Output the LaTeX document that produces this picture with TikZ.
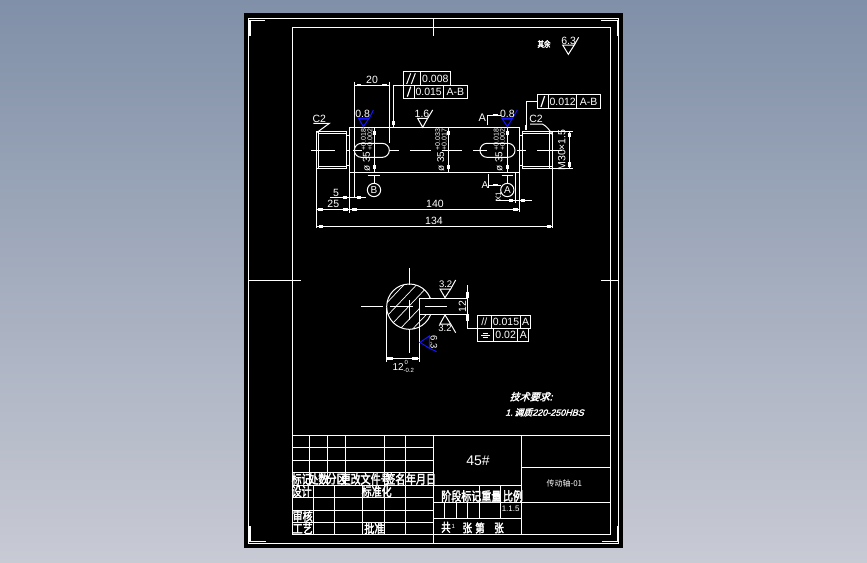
\documentclass[tikz,border=0pt]{standalone}
\usepackage{fontspec}
\setmainfont{Liberation Sans}
\newfontfamily\cjk[FakeBold=3]{Noto Sans CJK SC}
\newfontfamily\cjkslant[FakeBold=2.5,FakeSlant=0.3]{Noto Sans CJK SC}
\newfontfamily\cjkthin{Noto Sans CJK SC}
\newfontfamily\latslant[FakeSlant=0.3,FakeBold=2]{Liberation Sans}
\definecolor{bgtop}{RGB}{128,144,168}
\definecolor{bgbot}{RGB}{200,202,212}
\definecolor{cadblue}{RGB}{20,20,255}
\newcommand{\tolstack}[3]{#1\hspace{1pt}{\raisebox{-2.5pt}{\fontsize{7}{7}\selectfont\shortstack[l]{#2\\[-1.5pt]#3}}}}
\tikzset{
  ln/.style={draw=white,line width=1pt},
  bold/.style={draw=white,line width=1.2pt},
  tk/.style={draw=white,line width=2.4pt},
  txt/.style={text=white,inner sep=0pt,font=\fontsize{10.5}{11}\selectfont},
  ct/.style={text=white,inner sep=0pt,yscale=1.25,transform shape,font=\fontsize{10}{10}\selectfont\cjk},
  zo/.style={x=0.33333pt,y=-0.33333pt,shift={(290pt,-20pt)}},
  zs/.style={x=0.33333pt,y=-0.33333pt,shift={(350pt,-250pt)}},
  zt/.style={x=0.33333pt,y=-0.33333pt,shift={(285pt,-430pt)}},
}
\begin{document}
\begin{tikzpicture}[x=1pt,y=-1pt]
\useasboundingbox (0,0) rectangle (867,562);
\shade[top color=bgtop,bottom color=bgbot] (0,0) rectangle (867,562);
\fill[black] (244,13) rectangle (623,548);
% sheet frames
\draw[ln] (248.5,18.3) rectangle (618.7,543.3);
\draw[ln] (292.5,27.3) rectangle (610.3,534);
% corner marks
\draw[bold] (250,36)--(250,20.5)--(265,20.5);
\draw[bold] (601,20.5)--(617.3,20.5)--(617.3,36);
\draw[bold] (250,526)--(250,541.7)--(266,541.7);
\draw[bold] (602,541.7)--(617.3,541.7)--(617.3,526);
% centre marks
\draw[ln] (249,280.5)--(301,280.5);
\draw[ln] (601,280.5)--(618,280.5);
\draw[ln] (433.3,18)--(433.3,36);
\draw[ln] (433.3,534)--(433.3,543);

\begin{scope}[zo]
% shaft
\draw[ln] (179,322) rectangle (688,458);
\draw[ln] (80,334) rectangle (170,445);
\draw[ln] (86,340)--(170,340) (86,438)--(170,438) (86,334)--(86,445);
\draw[ln] (170,345)--(179,345) (170,435)--(179,435);
\draw[ln] (696,334) rectangle (788,445);
\draw[ln] (696,340)--(788,340) (696,438)--(788,438) (778,334)--(778,445);
\draw[ln] (688,345)--(696,345) (688,435)--(696,435);
% centre line
\foreach \a/\b in {63/135,168/179,190/215,300/327,360/422,455/516,550/590,680/708,742/815}
  \draw[ln] (\a,390)--(\b,390);
% keyways
\draw[ln] (214,370)--(277,370) arc[start angle=-90,end angle=90,radius=21] --(214,412) arc[start angle=90,end angle=270,radius=21];
\draw[ln] (591,370)--(654,370) arc[start angle=-90,end angle=90,radius=21] --(591,412) arc[start angle=90,end angle=270,radius=21];
% diameter dimensions
\draw[ln] (253,322)--(253,458) (476,322)--(476,458) (652,322)--(652,458);
\foreach \x in {253,476,652}
  \draw[tk] (\x,334)--(\x,346) (\x,435)--(\x,447);
\node[txt,rotate=90] (d1) at (230,391) {\fontsize{10}{10}\selectfont\tolstack{ø 35}{+0.018}{+0.002}};
\node[txt,rotate=90] (d2) at (453,391) {\fontsize{10}{10}\selectfont\tolstack{ø 35}{+0.033}{+0.017}};
\node[txt,rotate=90] (d3) at (628,391) {\fontsize{10}{10}\selectfont\tolstack{ø 35}{+0.018}{+0.002}};
% dim 20
\draw[ln] (193,185)--(193,530) (298,185)--(298,370);
\draw[ln] (193,195)--(298,195);
\draw[tk] (200,195)--(214,195) (277,195)--(291,195);
\node[txt] (t20) at (246,181) {20};
% leader and FCF 1
\draw[ln] (340,195)--(310,195)--(310,322);
\draw[tk] (310,303)--(310,315);
\draw[ln] (340,155) rectangle (482,196);
\draw[ln] (392,155)--(392,196);
\draw[ln] (340,196) rectangle (532,235);
\draw[ln] (372,196)--(372,235) (460,196)--(460,235);
\draw[ln] (350,192)--(362,160) (364,192)--(376,160);
\draw[bold] (352,230)--(362,200);
\node[txt] (f1) at (436,176) {0.008};
\node[txt] (f2) at (416,216) {0.015};
\node[txt] (f3) at (496,216) {A-B};
% FCF 2
\draw[ln] (742,245)--(708,245)--(708,322);
\draw[tk] (708,316)--(708,330);
\draw[ln] (742,223) rectangle (932,266);
\draw[ln] (775,223)--(775,266) (860,223)--(860,266);
\draw[bold] (753,261)--(764,228);
\node[txt] (f4) at (818,245) {0.012};
\node[txt] (f5) at (896,245) {A-B};
% chamfers
\node[txt] (c1) at (88,297) {C2};
\draw[ln] (70,310)--(118,310)--(80,338);
\node[txt] (c2) at (738,298) {C2};
\draw[ln] (720,312)--(757,312) .. controls (770,318) and (780,332) .. (788,345);
% M30
\draw[ln] (788,334)--(848,334) (788,445)--(848,445) (838,334)--(838,445);
\draw[tk] (838,338)--(838,352) (838,427)--(838,441);
\node[txt,rotate=90] (m) at (815,390) {M30×1.5};
% horizontal dims
\draw[ln] (179,322)--(179,578) (688,458)--(688,575) (675,458)--(675,550);
\draw[ln] (80,340)--(80,625) (788,345)--(788,625);
\draw[ln] (120,532)--(228,532);
\draw[tk] (158,532)--(172,532) (200,532)--(214,532);
\node[txt] (t5) at (138,518) {5};
\draw[ln] (80,568)--(688,568);
\draw[tk] (84,568)--(98,568) (160,568)--(174,568) (186,568)--(200,568) (670,568)--(684,568);
\node[txt] (t25) at (130,553) {25};
\node[txt] (t140) at (435,553) {140};
\draw[ln] (80,620)--(788,620);
\draw[tk] (86,620)--(100,620) (770,620)--(784,620);
\node[txt] (t134) at (432,604) {134};
\draw[ln] (617,541)--(725,541);
\draw[tk] (658,541)--(670,541) (694,541)--(706,541);
\node[txt,rotate=90,font=\fontsize{8}{8}\selectfont] (tx) at (625,530) {X1};
% datum symbols
\node[draw=white,line width=1pt,circle,minimum size=13.3pt,inner sep=0pt,text=white,font=\fontsize{10}{10}\selectfont] (B) at (252,510) {B};
\node[draw=white,line width=1pt,circle,minimum size=13.3pt,inner sep=0pt,text=white,font=\fontsize{10}{10}\selectfont] (A) at (652,510) {A};
\coordinate (bt) at (252,466);
\coordinate (at) at (652,466);
\draw[ln] (B)--(bt) (A)--(at);
\draw[ln] (233,466)--(270,466) (635,466)--(670,466);
% section marks
\node[txt,font=\fontsize{11}{11}\selectfont] (sa1) at (577,292) {A};
\draw[ln] (593,316)--(593,285)--(632,285);
\draw[tk] (608,285)--(625,285);
\node[txt,font=\fontsize{10}{10}\selectfont] (sa2) at (585,495) {A};
\draw[ln] (595,463)--(595,505) (595,495)--(632,495);
\draw[tk] (610,495)--(625,495);
% roughness
\draw[cadblue,line width=1pt] (205,294)--(238,294)--(220,320)--cycle (238,294)--(250,270);
\fill[cadblue] (205,294)--(238,294)--(236,299)--(208,299)--cycle;
\node[txt] (r1) at (218,281) {0.8};
\draw[cadblue,line width=1pt] (635,294)--(668,294)--(652,320)--cycle (668,294)--(682,270);
\fill[cadblue] (635,294)--(668,294)--(666,299)--(638,299)--cycle;
\node[txt] (r2) at (652,281) {0.8};
\draw[ln] (383,295)--(413,295)--(398,322)--cycle (413,295)--(428,270);
\node[txt] (r3) at (396,283) {1.6};
\draw[ln] (818,75)--(853,75)--(835,103)--cycle (853,75)--(866,52);
\node[txt] (r4) at (836,64) {6.3};
\node[ct,font=\fontsize{6.5}{7}\selectfont\cjk] (qy) at (762,72) {其余};
\end{scope}

\begin{scope}[zs]
% section view
\begin{scope}
\clip (90,85) rectangle (208,255) (208,85) rectangle (260,145) (208,192) rectangle (260,255);
\draw[ln] (178,170) circle[radius=68];
\clip (178,170) circle[radius=68];
\foreach \o in {-100,-62,...,300}
  \draw[draw=white,line width=.7pt] (\o,260)--(\o+190,60);
\end{scope}
\draw[ln] (208,145)--(350,145) (208,192)--(350,192) (208,145)--(208,335);
\draw[ln] (33,170)--(100,170) (120,170)--(190,170) (225,170)--(290,170);
\draw[ln] (178,55)--(178,105) (178,150)--(178,210) (178,240)--(178,308);
\draw[ln] (108,175)--(108,335);
\draw[ln] (108,326)--(208,326);
\draw[tk] (112,326)--(130,326) (186,326)--(204,326);
\node[txt,font=\fontsize{10}{10}\selectfont] (t12b) at (160,349) {12\raisebox{-1.5pt}{\fontsize{6}{6}\selectfont\shortstack[l]{\,0\\-0.2}}};
\draw[ln] (352,105)--(352,235)--(382,235);
\draw[tk] (352,125)--(352,145) (352,192)--(352,212);
\node[txt,rotate=90] (t12) at (337,170) {12};
\draw[ln] (382,196) rectangle (542,235);
\draw[ln] (424,196)--(424,235) (511,196)--(511,235);
\draw[ln] (382,235) rectangle (536,274);
\draw[ln] (430,235)--(430,274) (503,235)--(503,274);
\node[txt] (s1) at (403,216) {//};
\node[txt] (s2) at (468,216) {0.015};
\node[txt] (s3) at (527,216) {A};
\draw[ln] (393,255)--(420,255) (398,249)--(415,249) (398,262)--(415,262);
\node[txt] (s4) at (467,255) {0.02};
\node[txt] (s5) at (520,255) {A};
% roughness
\draw[ln] (270,117)--(302,117)--(285,143)--cycle (302,117)--(317,90);
\node[txt,font=\fontsize{9.5}{10}\selectfont] (r32a) at (287,103) {3.2};
\draw[ln] (270,222)--(302,222)--(285,195)--cycle (302,222)--(317,248);
\node[txt,font=\fontsize{9.5}{10}\selectfont] (r32b) at (285,235) {3.2};
\draw[cadblue,line width=1pt] (238,258)--(238,295)--(210,277)--cycle (238,295)--(260,305);
\node[txt,rotate=-90,font=\fontsize{9.5}{10}\selectfont] (r63) at (252,277) {6.3};
% technical notes
\node[text=white,inner sep=0pt,font=\fontsize{10}{10}\selectfont\cjkslant] (n1) at (543,440) {技术要求:};
\node[text=white,inner sep=0pt,anchor=west] (n2) at (465,487) {\fontsize{9}{9}\selectfont\latslant 1.\,\cjkslant 调质\latslant 220-250HBS};
\end{scope}

\begin{scope}[zt]
% title block
\draw[ln] (22,16)--(975,16);
\foreach \y in {52,90,127,165,202,240,277}
  \draw[ln] (22,\y)--(445,\y);
\draw[ln] (445,16)--(445,340);
\foreach \x in {73,127,181,298,361}
  \draw[ln] (\x,16)--(\x,165);
\foreach \x in {85,148,232,298,361}
  \draw[ln] (\x,165)--(\x,313);
\draw[ln] (709,16)--(709,313);
\draw[ln] (709,112)--(975,112);
\draw[ln] (445,165)--(709,165);
\draw[ln] (445,217)--(975,217);
\draw[ln] (445,265)--(709,265);
\foreach \x in {478,515,547,583,647}
  \draw[ln] (\x,217)--(\x,265);
\foreach \x in {583,647}
  \draw[ln] (\x,165)--(\x,217);
\node[ct] (a1) at (50,147) {标记};
\node[ct] (a2) at (100,147) {处数};
\node[ct] (a3) at (155,147) {分区};
\node[ct] (a4) at (242,147) {更改文件号};
\node[ct] (a5) at (331,147) {签名};
\node[ct] (a6) at (408,147) {年月日};
\node[ct] (b1) at (50,184) {设计};
\node[ct] (b2) at (275,184) {标准化};
\node[ct] (b3) at (53,258) {审核};
\node[ct] (b4) at (53,295) {工艺};
\node[ct] (b5) at (268,295) {批准};
\node[ct] (c1) at (529,198) {阶段标记};
\node[ct] (c2) at (619,198) {重量};
\node[ct] (c3) at (684,198) {比例};
\node[txt,font=\fontsize{8}{8}\selectfont] (c4) at (677,237) {1.1.5};
\node[ct,font=\fontsize{9.5}{10}\selectfont\cjk] (d1) at (483,292) {共};
\node[txt,font=\fontsize{6}{6}\selectfont] (d2) at (505,288) {1};
\node[ct,font=\fontsize{9.5}{10}\selectfont\cjk] (d3) at (547,294) {张};
\node[ct,font=\fontsize{9.5}{10}\selectfont\cjk] (d4) at (585,294) {第};
\node[ct,font=\fontsize{9.5}{10}\selectfont\cjk] (d5) at (642,294) {张};
\node[txt,font=\fontsize{14}{14}\selectfont] (e1) at (579,92) {45\#};
\node[text=white,inner sep=0pt,font=\fontsize{8}{8}\selectfont\cjkthin] (e2) at (838,160) {传动轴-01};
\end{scope}
\end{tikzpicture}
\end{document}
